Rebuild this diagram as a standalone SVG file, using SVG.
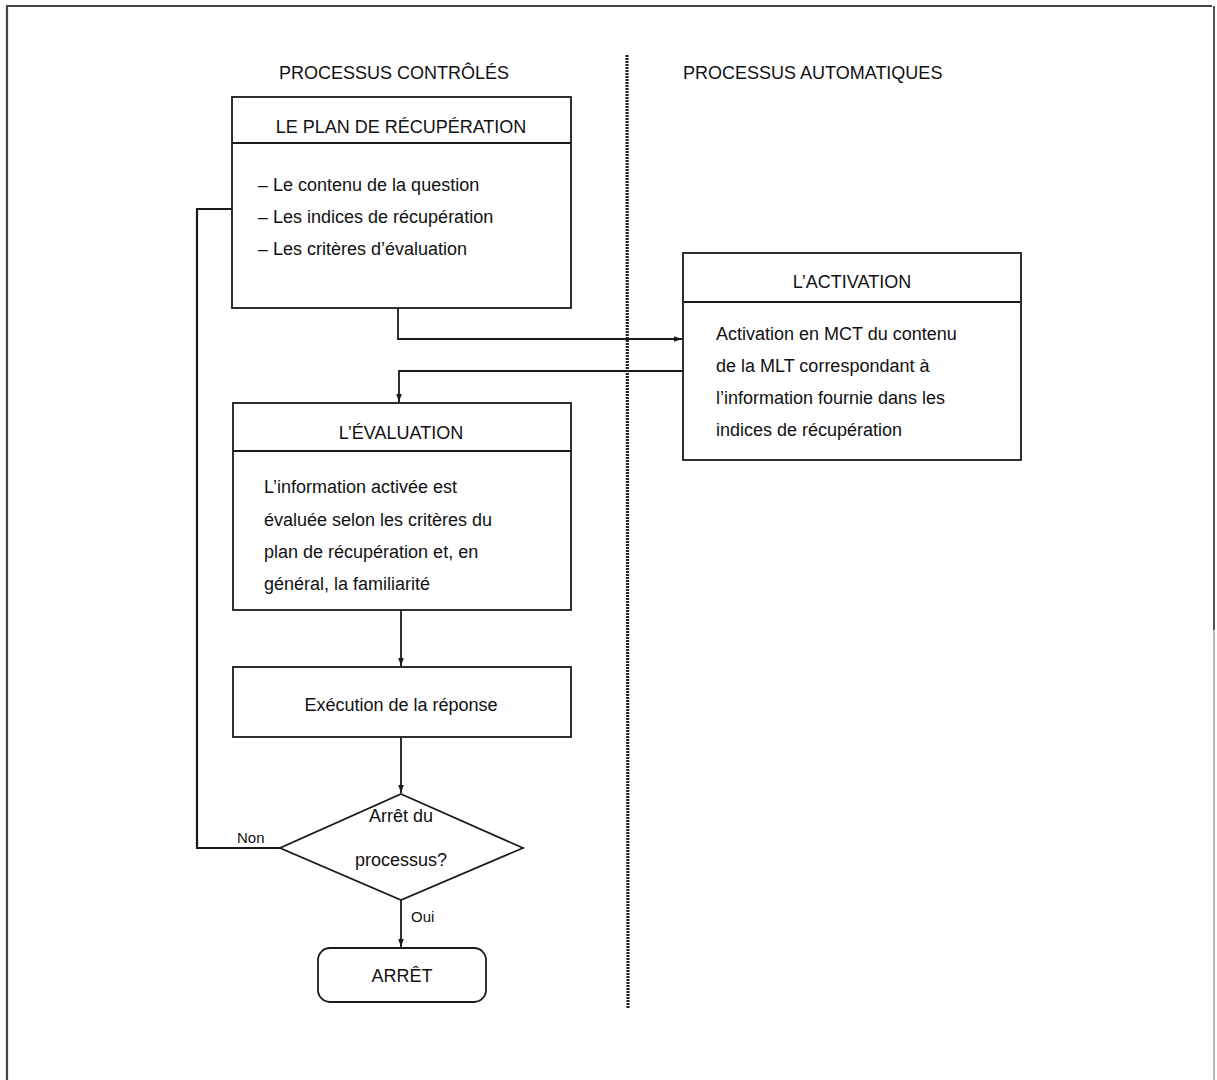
<svg xmlns="http://www.w3.org/2000/svg" width="1217" height="1080" viewBox="0 0 1217 1080">
<style>
text{font-family:"Liberation Sans",Arial,sans-serif;font-size:18px;fill:#111}
.c{text-anchor:middle}
.box{fill:#fff;stroke:#1a1a1a;stroke-width:1.8}
.ln{fill:none;stroke:#1a1a1a;stroke-width:1.8}
.wire{fill:none;stroke:#1a1a1a;stroke-width:1.8}
.lbl{font-size:15px}
</style>
<defs>
<marker id="ah" viewBox="0 0 10 10" refX="10" refY="5" markerWidth="8" markerHeight="8" markerUnits="userSpaceOnUse" orient="auto">
<path d="M0,1.5 L10,5 L0,8.5 z" fill="#1a1a1a"/>
</marker>
</defs>
<rect width="1217" height="1080" fill="#fff"/>
<g id="frame">
<path d="M7,1080 V6 H1212" fill="none" stroke="#444" stroke-width="2.2"/>
<line x1="1214" y1="6" x2="1214" y2="630" stroke="#555" stroke-width="2"/>
<line x1="1214" y1="630" x2="1214" y2="1080" stroke="#bbb" stroke-width="2"/>
</g>
<g id="divider">
<line x1="627" y1="55" x2="628" y2="1008" stroke="#222" stroke-width="3.2" stroke-dasharray="2 1"/>
</g>
<g id="headings">
<text class="c" x="394" y="79">PROCESSUS CONTRÔLÉS</text>
<text x="683" y="79">PROCESSUS AUTOMATIQUES</text>
</g>
<g id="connectors">
<path class="wire" d="M232,209 H197 V848 H280" style="stroke-width:2.2"/>
<path class="wire" d="M398,308 V339 H682" marker-end="url(#ah)"/>
<path class="wire" d="M683,371 H399 V402" marker-end="url(#ah)"/>
<path class="wire" d="M401,610 V666" marker-end="url(#ah)"/>
<path class="wire" d="M401,737 V793" marker-end="url(#ah)"/>
<path class="wire" d="M401,900 V947" marker-end="url(#ah)"/>
</g>
<g id="plan">
<rect class="box" x="232" y="97" width="339" height="211"/>
<line class="ln" x1="232" y1="143" x2="571" y2="143"/>
<text class="c" x="401" y="133">LE PLAN DE RÉCUPÉRATION</text>
<text x="258" y="191">– Le contenu de la question</text>
<text x="258" y="223">– Les indices de récupération</text>
<text x="258" y="255">– Les critères d’évaluation</text>
</g>
<g id="activation">
<rect class="box" x="683" y="253" width="338" height="207"/>
<line class="ln" x1="683" y1="302" x2="1021" y2="302"/>
<text class="c" x="852" y="288">L’ACTIVATION</text>
<text x="716" y="340">Activation en MCT du contenu</text>
<text x="716" y="372">de la MLT correspondant à</text>
<text x="716" y="404">l’information fournie dans les</text>
<text x="716" y="436">indices de récupération</text>
</g>
<g id="evaluation">
<rect class="box" x="233" y="403" width="338" height="207"/>
<line class="ln" x1="233" y1="451" x2="571" y2="451"/>
<text class="c" x="401" y="439">L’ÉVALUATION</text>
<text x="264" y="493">L’information activée est</text>
<text x="264" y="526">évaluée selon les critères du</text>
<text x="264" y="558">plan de récupération et, en</text>
<text x="264" y="590">général, la familiarité</text>
</g>
<g id="execution">
<rect class="box" x="233" y="667" width="338" height="70"/>
<text class="c" x="401" y="711">Exécution de la réponse</text>
</g>
<g id="decision">
<polygon class="box" points="401,794 523,848 401,900 280,848"/>
<text class="c" x="401" y="822">Arrêt du</text>
<text class="c" x="401" y="866">processus?</text>
<text class="lbl" x="237" y="843">Non</text>
<text class="lbl" x="411" y="922">Oui</text>
</g>
<g id="stop">
<rect class="box" x="318" y="948" width="168" height="54" rx="12"/>
<text class="c" x="402" y="982">ARRÊT</text>
</g>
</svg>
